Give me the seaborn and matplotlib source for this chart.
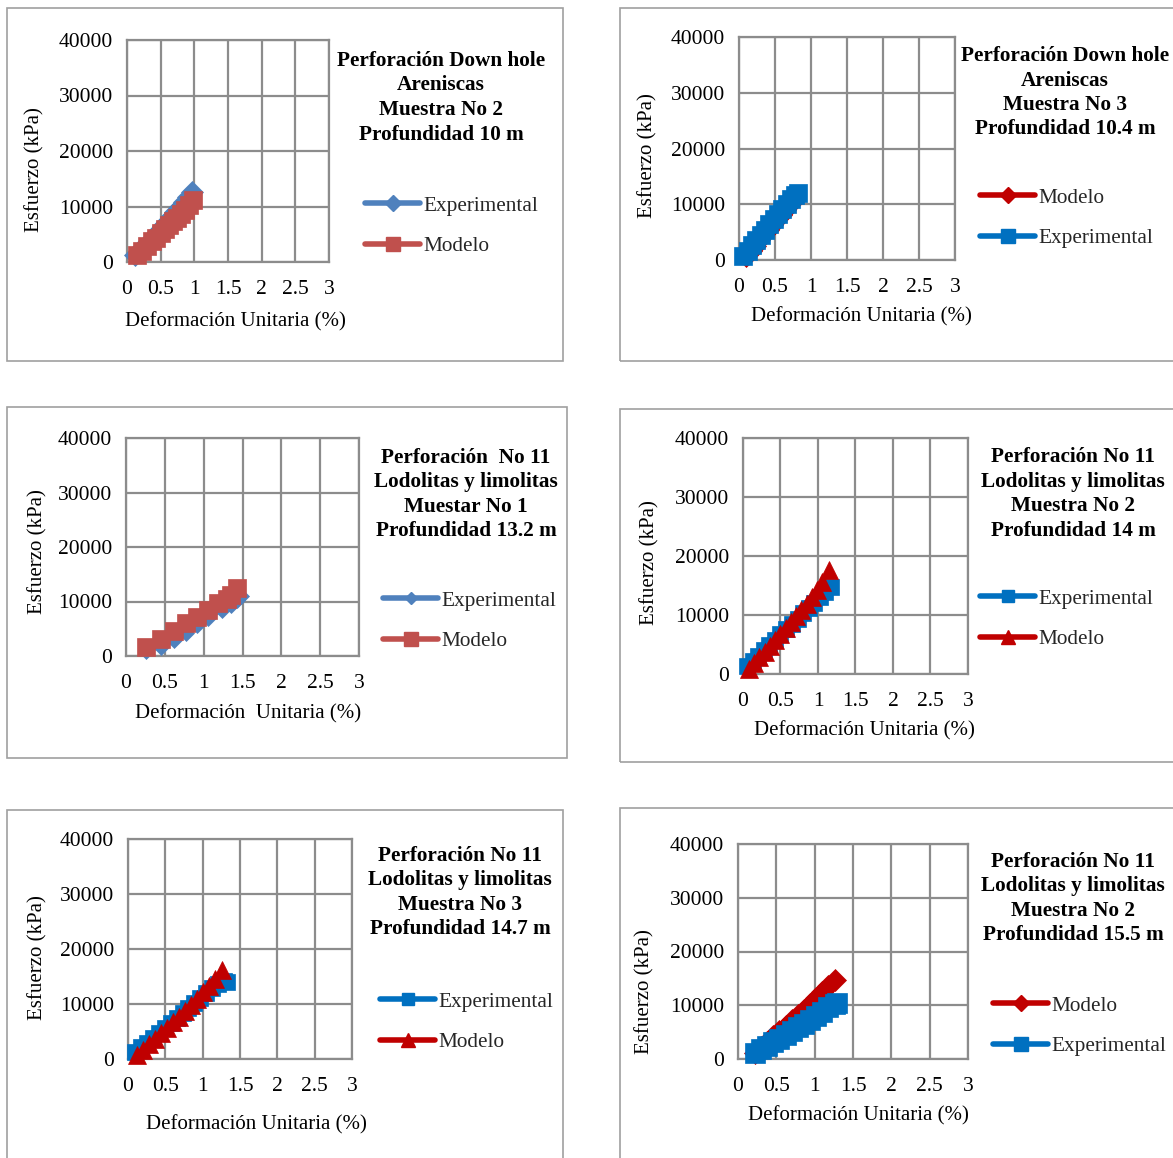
import matplotlib
matplotlib.use("Agg")
import matplotlib.pyplot as plt
from matplotlib.patches import Rectangle
from matplotlib.lines import Line2D
import seaborn as sns
import pandas as pd

sns.set_theme(style="white")
plt.rcParams['font.family'] = ['Liberation Serif', 'DejaVu Serif']

W, H = 1173, 1158
DPI = 100

# ---------------- data ----------------
p1_exp_x = [0.12, 0.2, 0.28, 0.35, 0.42, 0.48, 0.54, 0.6, 0.66, 0.72, 0.78, 0.84, 0.9, 0.96]
p1_exp_y = [1200, 2100, 3100, 3900, 4800, 5600, 6400, 7200, 8100, 9000, 9900, 10800, 11700, 12600]
p1_mod_x = [0.15, 0.22, 0.3, 0.37, 0.43, 0.5, 0.56, 0.62, 0.68, 0.74, 0.8, 0.86, 0.92, 0.98]
p1_mod_y = [1200, 2000, 2900, 3700, 4400, 5200, 5900, 6600, 7300, 8000, 8700, 9400, 10200, 11100]

p2_exp_x = [0.06, 0.12, 0.18, 0.24, 0.3, 0.36, 0.42, 0.48, 0.54, 0.6, 0.66, 0.72, 0.78, 0.82]
p2_exp_y = [800, 1700, 2700, 3600, 4500, 5400, 6400, 7300, 8200, 9100, 10000, 10900, 11700, 12000]
p2_mod_x = [0.1, 0.16, 0.22, 0.28, 0.34, 0.4, 0.46, 0.52, 0.58, 0.64, 0.7, 0.76]
p2_mod_y = [800, 1700, 2600, 3500, 4400, 5300, 6200, 7100, 8000, 8900, 9800, 10700]

p3_exp_x = [0.26, 0.45, 0.62, 0.77, 0.92, 1.06, 1.24, 1.35, 1.43, 1.48]
p3_exp_y = [900, 1700, 3000, 4300, 5600, 7000, 8500, 9400, 10300, 11000]
p3_mod_x = [0.26, 0.45, 0.62, 0.77, 0.91, 1.06, 1.18, 1.3, 1.35, 1.43]
p3_mod_y = [1700, 3100, 4500, 6000, 7200, 8400, 9800, 10500, 11200, 12400]

p4_exp_x = [0.05, 0.13, 0.2, 0.28, 0.35, 0.43, 0.5, 0.58, 0.65, 0.73, 0.8, 0.88, 0.95, 1.03, 1.1, 1.18]
p4_exp_y = [1300, 2200, 3100, 4000, 4900, 5800, 6700, 7600, 8500, 9400, 10300, 11200, 12100, 13000, 13900, 14800]
p4_mod_x = [0.08, 0.15, 0.22, 0.29, 0.36, 0.43, 0.5, 0.57, 0.64, 0.71, 0.78, 0.85, 0.92, 0.99, 1.06, 1.15]
p4_mod_y = [800, 1800, 2800, 3800, 4800, 5800, 6800, 7800, 8800, 9800, 10800, 11900, 13000, 14200, 15600, 17600]

p5_exp_x = [0.09, 0.17, 0.25, 0.33, 0.41, 0.49, 0.57, 0.65, 0.73, 0.81, 0.89, 0.97, 1.05, 1.13, 1.21, 1.29, 1.32]
p5_exp_y = [1200, 2100, 3000, 3900, 4800, 5700, 6600, 7500, 8400, 9300, 10200, 11100, 12000, 12900, 13600, 14200, 14000]
p5_mod_x = [0.12, 0.2, 0.28, 0.36, 0.44, 0.52, 0.6, 0.68, 0.76, 0.84, 0.92, 1.0, 1.08, 1.16, 1.26]
p5_mod_y = [700, 1700, 2700, 3700, 4700, 5700, 6700, 7700, 8800, 9900, 11000, 12100, 13300, 14600, 16200]

p6_exp_x = [0.22, 0.3, 0.38, 0.46, 0.54, 0.62, 0.7, 0.78, 0.86, 0.94, 1.02, 1.1, 1.18, 1.26, 1.29]
p6_exp_y = [1100, 1800, 2500, 3100, 3800, 4500, 5200, 5900, 6600, 7300, 8000, 8800, 9600, 10300, 10400]
p6_mod_x = [0.22, 0.3, 0.38, 0.46, 0.54, 0.62, 0.7, 0.78, 0.86, 0.94, 1.02, 1.1, 1.18, 1.26]
p6_mod_y = [1200, 2200, 3200, 4200, 5200, 6200, 7200, 8200, 9200, 10200, 11300, 12400, 13500, 14700]

x_ticks = [0, 0.5, 1, 1.5, 2, 2.5, 3]
x_tick_labels = ["0", "0.5", "1", "1.5", "2", "2.5", "3"]
y_ticks = [0, 10000, 20000, 30000, 40000]
y_tick_labels = ["0", "10000", "20000", "30000", "40000"]

titles = [
    "Perforación Down hole\nAreniscas\nMuestra No 2\nProfundidad 10 m",
    "Perforación Down hole\nAreniscas\nMuestra No 3\nProfundidad 10.4 m",
    "Perforación  No 11\nLodolitas y limolitas\nMuestar No 1\nProfundidad 13.2 m",
    "Perforación No 11\nLodolitas y limolitas\nMuestra No 2\nProfundidad 14 m",
    "Perforación No 11\nLodolitas y limolitas\nMuestra No 3\nProfundidad 14.7 m",
    "Perforación No 11\nLodolitas y limolitas\nMuestra No 2\nProfundidad 15.5 m",
]
xlabels = ["Deformación Unitaria (%)", "Deformación Unitaria (%)", "Deformación  Unitaria (%)",
           "Deformación Unitaria (%)", "Deformación Unitaria (%)", "Deformación Unitaria (%)"]
ylabel = "Esfuerzo (kPa)"

# colors
B1, R1 = "#4F81BD", "#C0504D"
B2, R2 = "#0070C0", "#C00000"

panels = [
    dict(frame=(7, 8, 563, 361), ax=(127, 40, 329, 262),
         series=[("Experimental", p1_exp_x, p1_exp_y, B1, "D", 11),
                 ("Modelo", p1_mod_x, p1_mod_y, R1, "s", 13)],
         title_xy=(441, 51), leg_xy=(365, 196), xl=(235, 322), yl=(35, 170)),
    dict(frame=(620, 8, 1180, 361), ax=(739, 37, 955, 260),
         series=[("Modelo", p2_mod_x, p2_mod_y, R2, "D", 11),
                 ("Experimental", p2_exp_x, p2_exp_y, B2, "s", 13)],
         title_xy=(1065, 46), leg_xy=(980, 188), xl=(861, 317), yl=(648, 156)),
    dict(frame=(7, 407, 567, 758), ax=(126, 438, 359, 656),
         series=[("Experimental", p3_exp_x, p3_exp_y, B1, "D", 8),
                 ("Modelo", p3_mod_x, p3_mod_y, R1, "s", 13)],
         title_xy=(466, 448), leg_xy=(383, 591), xl=(248, 714), yl=(38, 552)),
    dict(frame=(620, 409, 1180, 762), ax=(743, 438, 968, 674),
         series=[("Experimental", p4_exp_x, p4_exp_y, B2, "s", 12),
                 ("Modelo", p4_mod_x, p4_mod_y, R2, "^", 13)],
         title_xy=(1073, 447), leg_xy=(980, 589), xl=(864, 731), yl=(650, 563)),
    dict(frame=(7, 810, 563, 1170), ax=(128, 839, 352, 1059),
         series=[("Experimental", p5_exp_x, p5_exp_y, B2, "s", 12),
                 ("Modelo", p5_mod_x, p5_mod_y, R2, "^", 13)],
         title_xy=(460, 846), leg_xy=(380, 992), xl=(256, 1125), yl=(38, 958)),
    dict(frame=(620, 808, 1180, 1170), ax=(738, 844, 968, 1059),
         series=[("Modelo", p6_mod_x, p6_mod_y, R2, "D", 11),
                 ("Experimental", p6_exp_x, p6_exp_y, B2, "s", 14)],
         title_xy=(1073, 852), leg_xy=(993, 996), xl=(858, 1116), yl=(645, 992)),
]

fig = plt.figure(figsize=(W / DPI, H / DPI), dpi=DPI)
fig.patch.set_facecolor("white")

GRID = "#8C8C8C"

def fx(px):
    return px / W

def fy(py):
    return 1 - py / H

for i, p in enumerate(panels):
    x0, y0, x1, y1 = p["frame"]
    fig.add_artist(Rectangle((fx(x0), fy(y1)), (x1 - x0) / W, (y1 - y0) / H,
                             transform=fig.transFigure, fill=False,
                             edgecolor="#A0A0A0", linewidth=1.2, zorder=0))
    ax0, ay0, ax1, ay1 = p["ax"]
    ax = fig.add_axes([fx(ax0), fy(ay1), (ax1 - ax0) / W, (ay1 - ay0) / H])
    ax.set_facecolor("white")
    for lab, xs, ys, col, mk, ms in p["series"]:
        df = pd.DataFrame({"x": xs, "y": ys})
        sns.lineplot(data=df, x="x", y="y", ax=ax, color=col, marker=mk,
                     markersize=ms, markeredgecolor=col, markeredgewidth=0.5,
                     linewidth=3, sort=False, label=lab, legend=False,
                     clip_on=False, zorder=3)
    ax.set_xlim(0, 3)
    ax.set_ylim(0, 40000)
    ax.set_xticks(x_ticks)
    ax.set_xticklabels(x_tick_labels)
    ax.set_yticks(y_ticks)
    ax.set_yticklabels(y_tick_labels)
    ax.grid(True, color=GRID, linewidth=1.6)
    ax.set_axisbelow(True)
    for s in ax.spines.values():
        s.set_color(GRID)
        s.set_linewidth(1.6)
    ax.tick_params(axis="both", which="major", direction="out", length=5,
                   width=1.6, color=GRID, labelsize=15.5, labelcolor="black")
    ax.tick_params(axis="x", pad=8)
    ax.tick_params(axis="y", pad=5)
    ax.set_xlabel(xlabels[i], fontsize=15, color="black")
    ax.set_ylabel(ylabel, fontsize=15, color="black")
    ax.xaxis.label.set_va("center")
    ax.yaxis.label.set_va("center")
    ax.xaxis.set_label_coords(fx(p["xl"][0]), fy(p["xl"][1]), transform=fig.transFigure)
    ax.yaxis.set_label_coords(fx(p["yl"][0]), fy(p["yl"][1]), transform=fig.transFigure)

    tx, ty = p["title_xy"]
    fig.text(fx(tx), fy(ty), titles[i], ha="center", va="top", fontsize=15.3,
             fontweight="bold", linespacing=1.3, color="black")

    handles = [Line2D([0], [0], color=c, marker=m, markersize=ms * 0.75,
                      linewidth=4, markeredgecolor=c)
               for (_, _, _, c, m, ms) in p["series"]]
    labels = [s[0] for s in p["series"]]
    lx, ly = p["leg_xy"]
    fig.legend(handles, labels, loc="upper left",
               bbox_to_anchor=(fx(lx), fy(ly)), bbox_transform=fig.transFigure,
               frameon=False, fontsize=15.3, handlelength=2.6, handletextpad=0.15,
               labelspacing=0.95, borderpad=0, borderaxespad=0)

fig.savefig("out.png", dpi=DPI, facecolor="white")
